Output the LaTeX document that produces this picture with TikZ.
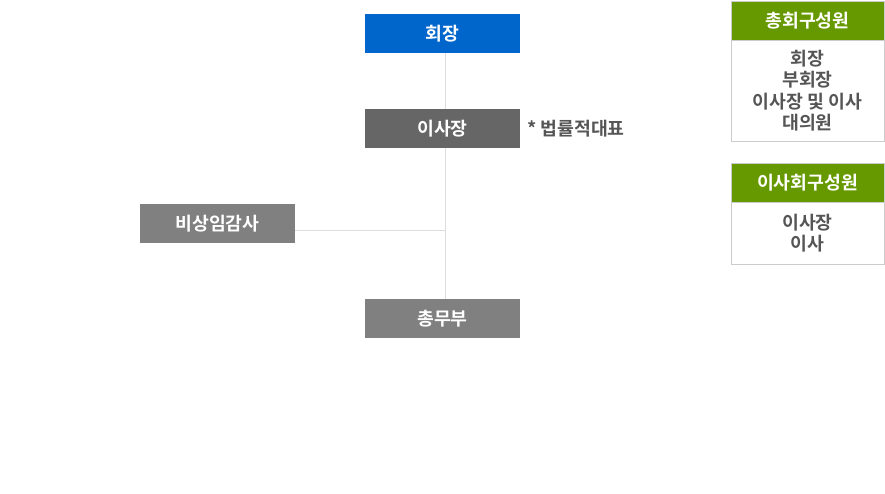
\documentclass[tikz,border=0pt]{standalone}
\usepackage{fontspec}
\setmainfont{Noto Sans CJK KR}[BoldFont={* Bold}]
\definecolor{blueA}{HTML}{0066CC}
\definecolor{darkG}{HTML}{666666}
\definecolor{midG}{HTML}{808080}
\definecolor{greenA}{HTML}{669900}
\definecolor{lineG}{HTML}{DDDDDD}
\definecolor{bordG}{HTML}{CCCCCC}
\definecolor{txtG}{HTML}{555555}
\begin{document}
\begin{tikzpicture}[x=1pt,y=-1pt,
  orgbox/.style={minimum width=155pt,minimum height=39pt,inner sep=0pt,text=white,font=\fontsize{18.3}{20}\selectfont\bfseries},
  conn/.style={draw=lineG,line width=1pt},
  hdr/.style={fill=greenA,draw=bordG,line width=0.8pt,minimum width=153pt,minimum height=39pt,inner sep=0pt,text=white,font=\fontsize{18.3}{20}\selectfont\bfseries},
  bodybox/.style={draw=bordG,line width=0.8pt,fill=white,minimum width=153pt,inner sep=0pt,text=txtG,align=center,font=\fontsize{18.3}{21.5}\selectfont\bfseries}]
\useasboundingbox (0,0) rectangle (885,493);
\fill[white] (0,0) rectangle (885,493);
\coordinate (junc) at (445,230);
\node[orgbox,fill=blueA] (hoe) at (442.5,33.5) {회장};
\node[orgbox,fill=darkG] (isa) at (442.5,128.5) {이사장};
\node[orgbox,fill=midG] (bis) at (217.5,223.5) {비상임감사};
\node[orgbox,fill=midG] (chong) at (442.5,318.5) {총무부};
\draw[conn] (hoe.south -| junc) -- (isa.north -| junc);
\draw[conn] (isa.south -| junc) -- (chong.north -| junc);
\draw[conn] (bis.east |- junc) -- (junc);
\node[anchor=west,text=txtG,font=\fontsize{18.3}{20}\selectfont\bfseries,inner sep=0pt] (legal) at (527,129) {* 법률적대표};
% panel 1
\node[bodybox,minimum height=101pt] (body1) at (807.5,90.5) {회장\\부회장\\이사장 및 이사\\대의원};
\node[hdr] (hdr1) at (807.5,20.5) {총회구성원};
% panel 2
\node[bodybox,minimum height=62pt] (body2) at (807.5,233) {이사장\\이사};
\node[hdr] (hdr2) at (807.5,183) {이사회구성원};
\end{tikzpicture}
\end{document}
